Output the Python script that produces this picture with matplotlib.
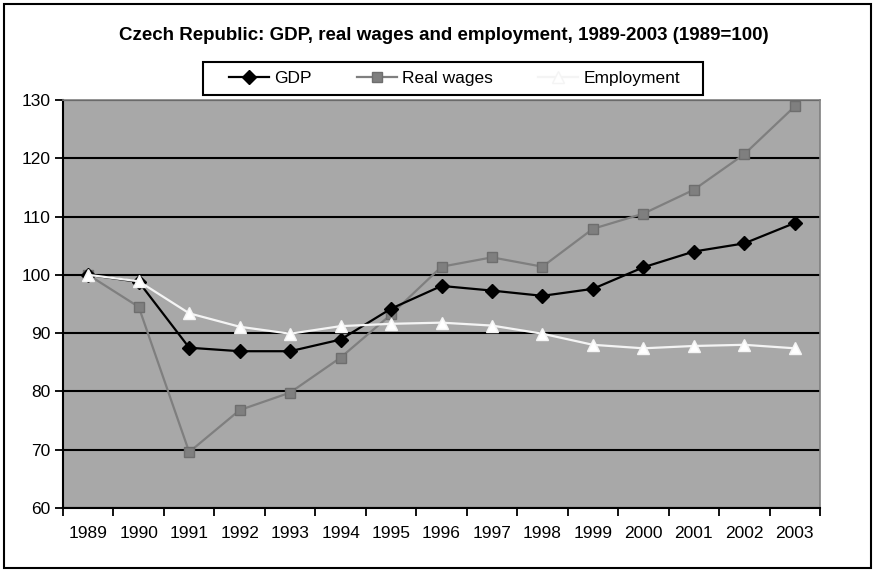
import numpy as np
import matplotlib
matplotlib.use('Agg')
import matplotlib.pyplot as plt
from matplotlib.patches import Rectangle

years = ['1989', '1990', '1991', '1992', '1993', '1994', '1995', '1996',
         '1997', '1998', '1999', '2000', '2001', '2002', '2003']
gdp = [100, 98.8, 87.5, 86.9, 86.9, 88.9, 94.2, 98.1, 97.3, 96.4, 97.6, 101.3, 104.0, 105.4, 108.9]
real_wages = [100, 94.5, 69.6, 76.8, 79.8, 85.8, 93.2, 101.4, 103.0, 101.4, 107.9, 110.5, 114.6, 120.7, 128.9]
employment = [100, 98.9, 93.4, 91.1, 89.9, 91.2, 91.6, 91.8, 91.3, 89.9, 88.0, 87.4, 87.8, 88.0, 87.4]

plt.rcParams['font.family'] = ['Liberation Sans', 'DejaVu Sans']

fig = plt.figure(figsize=(8.73, 5.71), dpi=100)
fig.patch.set_facecolor('white')

# рамка вокруг всей диаграммы
fig.patches.append(Rectangle((0.005, 0.006), 0.993, 0.987, transform=fig.transFigure,
                             fill=False, edgecolor='black', linewidth=1.5))

ax = fig.add_axes([0.0722, 0.1103, 0.8671, 0.7146])
ax.set_facecolor('#a8a8a8')

x = np.arange(len(years))
ax.plot(x, gdp, color='black', lw=1.6, marker='D', ms=7, mfc='black', mec='black',
        label='GDP', zorder=4)
ax.plot(x, real_wages, color='#7f7f7f', lw=1.6, marker='s', ms=7.5, mfc='#7f7f7f',
        mec='#6e6e6e', label='Real wages', zorder=3)
ax.plot(x, employment, color='#f4f4f4', lw=1.6, marker='^', ms=8.5, mfc='white',
        mec='#f4f4f4', label='Employment', zorder=5)

ax.set_xlim(-0.5, len(years) - 0.5)
ax.set_ylim(60, 130)
ax.set_yticks(np.arange(60, 131, 10))
ax.yaxis.grid(True, color='black', lw=1.5)
ax.set_axisbelow(True)

# метки по оси X стоят между категориями
ax.set_xticks(np.arange(-0.5, len(years), 1.0))
ax.set_xticklabels([])
ax.set_xticks(x, minor=True)
ax.set_xticklabels(years, minor=True, fontsize=12.5)
ax.tick_params(axis='x', which='minor', length=0, pad=13)
ax.tick_params(axis='x', which='major', length=6, width=1.3, direction='out')
ax.tick_params(axis='y', length=6, width=1.3, direction='out', labelsize=12.5, pad=3)

for side in ('left', 'bottom'):
    ax.spines[side].set_color('black')
    ax.spines[side].set_linewidth(1.5)
for side in ('top', 'right'):
    ax.spines[side].set_color('#808080')
    ax.spines[side].set_linewidth(1.2)

fig.text(0.508, 0.938, 'Czech Republic: GDP, real wages and employment, 1989-2003 (1989=100)',
         ha='center', va='center', fontsize=13.5, fontweight='bold')

# легенда без своей рамки, рамка рисуется отдельно
leg = fig.legend(loc='center', bbox_to_anchor=(0.521, 0.8625), ncol=3, frameon=False,
                 handlelength=2.3, columnspacing=2.6, handletextpad=0.3,
                 prop={'size': 12.5})
fig.patches.append(Rectangle((0.2325, 0.8336), 0.5728, 0.0578, transform=fig.transFigure,
                             fill=True, facecolor='white', edgecolor='black',
                             linewidth=1.5, zorder=0))

fig.savefig('out.png', dpi=100)
